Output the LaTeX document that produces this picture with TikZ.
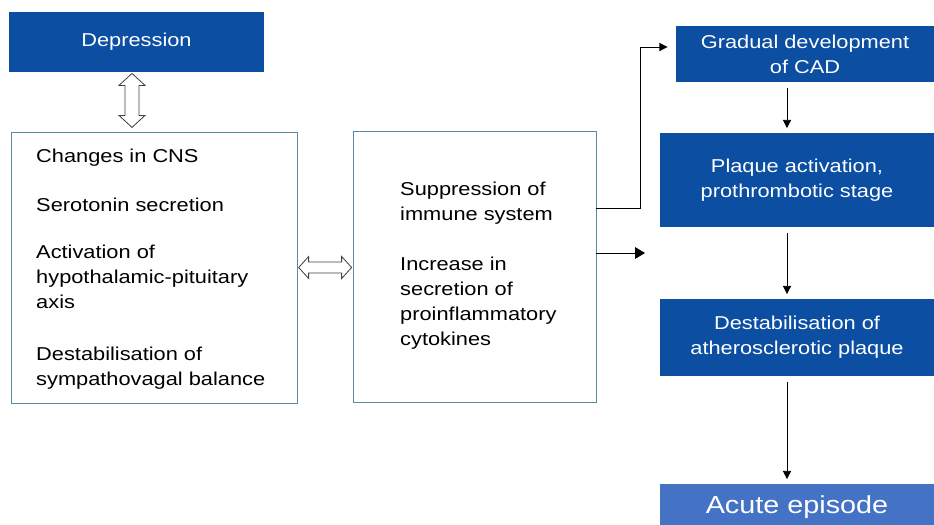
\documentclass[tikz,border=0pt]{standalone}
\usepackage{fontspec}
\setmainfont{Liberation Sans}[FakeStretch=1.17]
\usetikzlibrary{arrows.meta,calc}
\definecolor{deepblue}{HTML}{0B4EA2}
\definecolor{softblue}{HTML}{4472C4}
\definecolor{tealframe}{HTML}{5A8AA6}

\begin{document}
\begin{tikzpicture}[x=0.03cm,y=-0.03cm,
    node font=\fontsize{15.9}{21.3}\selectfont,
    bluebox/.style={fill=deepblue,text=white,align=center,inner sep=0pt},
    panel/.style={draw=tealframe,line width=0.8pt,inner sep=0pt},
    item/.style={anchor=base west,align=left,inner sep=0pt},
    arr/.style={-{Triangle[length=7pt,width=7pt]},line width=0.7pt},
    hollow/.style={draw=black!75,line width=0.7pt,fill=white,line join=miter}]
\useasboundingbox (0,0) rectangle (934,524);

\node[bluebox,minimum width=7.65cm,minimum height=1.8cm] (dep) at (136.5,42) {Depression};
\node[panel,minimum width=8.58cm,minimum height=8.13cm] (brain) at (154,267.5) {};
\node[panel,minimum width=7.29cm,minimum height=8.13cm] (immune) at (474.5,266.5) {};

\node[item] (cns) at (36,162) {Changes in CNS};
\node[item] (sero) at (36,211) {Serotonin secretion};
\node[item] (hpa) at (36,308) {Activation of\\hypothalamic-pituitary\\axis};
\node[item] (vagal) at (36,385) {Destabilisation of\\sympathovagal balance};

\node[item] (supp) at (400,220) {Suppression of\\immune system};
\node[item] (cyto) at (400,345) {Increase in\\secretion of\\proinflammatory\\cytokines};

\node[bluebox,minimum width=7.74cm,minimum height=1.68cm] (cad) at (805,54) {Gradual development\\of CAD};
\node[bluebox,minimum width=8.22cm,minimum height=2.82cm] (plaque) at (797,180) {Plaque activation,\\prothrombotic stage};
\node[bluebox,minimum width=8.22cm,minimum height=2.31cm] (destab) at (797,337.5) {Destabilisation of\\atherosclerotic plaque};
\node[bluebox,fill=softblue,minimum width=8.22cm,minimum height=1.41cm,font=\fontsize{21}{25}\selectfont] (acute) at (797,507.5) {Acute episode};

\coordinate (vx) at (132,0);
\coordinate (col) at (787,0);
\coordinate (up) at (640,47);
\coordinate (gap) at (645,253);

\draw[hollow] ([yshift=-1pt]dep.south -| vx) -- ++(13,12) -- ++(-6,0) -- ++(0,30) -- ++(6,0)
    -- ++(-13,12) -- ++(-13,-12) -- ++(6,0) -- ++(0,-30) -- ++(-6,0) -- cycle;
\draw[hollow] ([xshift=1pt]brain.east) -- ++(10,-11) -- ++(0,5.5) -- ++(33,0) -- ++(0,-5.5)
    -- ++(10,11) -- ++(-10,11) -- ++(0,-5.5) -- ++(-33,0) -- ++(0,5.5) -- cycle;

\draw[arr,shorten >=7pt] (immune.east |- 0,208) -| (up) -- (cad.west |- up);
\draw[arr,-{Triangle[length=8.5pt,width=10pt]}] (immune.east |- gap) -- (gap);
\foreach \a/\b in {cad/plaque,plaque/destab,destab/acute}
  \draw[arr,shorten <=5pt,shorten >=4pt] (\a.south -| col) -- (\b.north -| col);
\end{tikzpicture}
\end{document}
